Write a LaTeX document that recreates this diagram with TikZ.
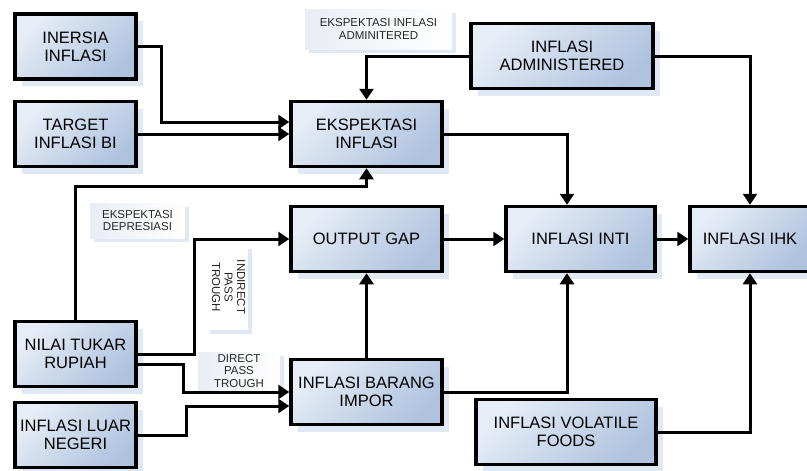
\documentclass[tikz,border=0pt]{standalone}
\usepackage{fontspec}
\setmainfont{Liberation Sans}
\usepackage{tikz}
\usetikzlibrary{positioning,arrows.meta,shadows}
\tikzset{
  block/.style={rectangle, draw=black, line width=3.5pt, top color=boxlight, bottom color=boxdark,
                shading angle=45, minimum width=121pt, minimum height=65pt, inner sep=2pt,
                font=\fontsize{16.5}{18}\selectfont, align=center,
                drop shadow={shadow xshift=7pt, shadow yshift=-7pt, fill=shadowblue}},
  note/.style={rectangle, left color=notegray, right color=white, inner sep=2pt,
               font=\fontsize{11.5}{12.5}\selectfont, text=black!85, align=center,
               drop shadow={shadow xshift=4pt, shadow yshift=-4pt, fill=shadowblue}},
  arr/.style={-{Triangle[length=11pt, width=14pt]}, line width=3pt, draw=black},
}
\definecolor{boxlight}{HTML}{E6EDF6}
\definecolor{boxdark}{HTML}{AFC3DF}
\definecolor{shadowblue}{HTML}{C2D1EA}
\definecolor{notegray}{HTML}{E9EDF4}

\begin{document}
\begin{tikzpicture}[x=1pt, y=-1pt]
      \useasboundingbox (0,0) rectangle (807,471);
      % edge labels
      \node[note, minimum width=147pt, minimum height=40pt] (lblAdm) at (378.5,29) {EKSPEKTASI INFLASI\\ADMINITERED};
      \node[note, minimum width=95pt, minimum height=35pt] (lblDep) at (137.5,220.5) {EKSPEKTASI\\DEPRESIASI};
      \node[note, minimum width=40pt, minimum height=85pt, left color=white, right color=white] (lblInd) at (227,287)
        {\rotatebox{-90}{\begin{tabular}{@{}c@{}}INDIRECT\\PASS\\TROUGH\end{tabular}}};
      \node[note, minimum width=82pt, minimum height=38pt] (lblDir) at (239,371) {DIRECT\\PASS\\TROUGH};
      % blocks
      \node[block] (inersia) at (75.5,46.5) {INERSIA\\INFLASI};
      \node[block] (target) at (75.5,134) {TARGET\\INFLASI BI};
      \node[block] (nilai) at (75.5,354) {NILAI TUKAR\\RUPIAH};
      \node[block] (luar) at (75.5,435) {INFLASI LUAR\\NEGERI};
      \node[block, minimum width=151pt] (ekspinf) at (366.5,134) {EKSPEKTASI\\INFLASI};
      \node[block, minimum width=151pt] (outgap) at (366.5,239) {OUTPUT GAP};
      \node[block, minimum width=151pt] (impor) at (366.5,392) {INFLASI BARANG\\IMPOR};
      \node[block, minimum width=182pt] (admin) at (562,56) {INFLASI\\ADMINISTERED};
      \node[block, minimum width=149pt] (inti) at (580.5,239) {INFLASI INTI};
      \node[block, minimum width=120pt] (ihk) at (750,239) {INFLASI IHK};
      \node[block, minimum width=180pt] (volatile) at (566,432) {INFLASI VOLATILE\\FOODS};
      % connectors
      \draw[arr] (inersia.east) -- ++(24,0) |- ([yshift=12pt]ekspinf.west);
      \draw[arr] (target.east) -- (ekspinf.west);
      \draw[arr] (admin.west) -| (ekspinf.north);
      \draw[arr] (admin.east) -| (ihk.north);
      \draw[arr] (ekspinf.east) -| ([xshift=-13.5pt]inti.north);
      \draw[arr] (nilai.north) -- ++(0,-133.5) -| (ekspinf.south);
      \draw[arr] (nilai.east) -- ++(57,0) |- (outgap.west);
      \draw[arr] ([yshift=-10pt]nilai.east) -- ++(46,0) |- (impor.west);
      \draw[arr] (luar.east) -- ++(49,0) |- ([yshift=-14pt]impor.west);
      \draw[arr] (impor.north) -- (outgap.south);
      \draw[arr] (outgap.east) -- (inti.west);
      \draw[arr] (impor.east) -| ([xshift=-13.5pt]inti.south);
      \draw[arr] (inti.east) -- (ihk.west);
      \draw[arr] (volatile.east) -| (ihk.south);
    \end{tikzpicture}
\end{document}
